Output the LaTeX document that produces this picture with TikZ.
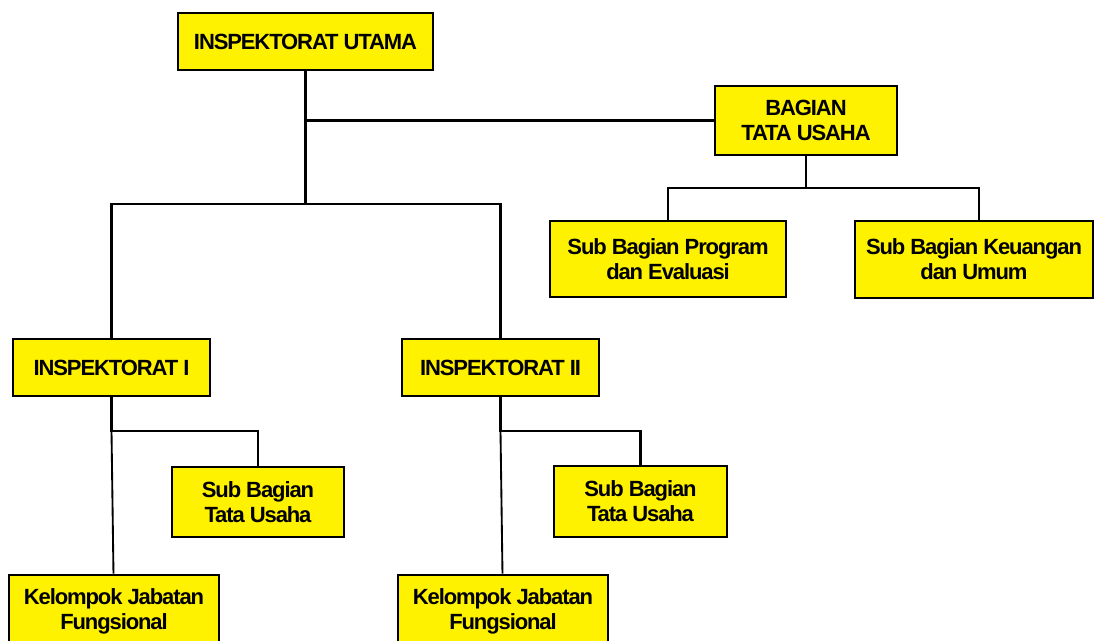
\documentclass[tikz,border=0pt]{standalone}
\usepackage{fontspec}
\setmainfont{Liberation Sans}[LetterSpace=-5]

\begin{document}
\begin{tikzpicture}
[x=0.75pt,y=-0.75pt,
unit/.style={rectangle,draw=black,fill=yellow,line width=2pt,align=center,inner sep=0pt,
  font=\fontsize{16.5}{18.75}\selectfont\bfseries},
boxsize/.style 2 args={minimum width=#1*0.75pt,minimum height=#2*0.75pt},
link/.style={draw=black,line width=2pt},
thin link/.style={draw=black,line width=1.4pt}]
\clip (0,0) rectangle (1095,640);
% top level
\node[unit,boxsize={255}{57}] (inspektorat utama) at (305.5,41.5) {INSPEKTORAT UTAMA};
\node[unit,boxsize={182}{69}] (bagian tu) at (806,120.5) {BAGIAN\\TATA USAHA};
\node[unit,boxsize={236}{76}] (sub program) at (668,259) {Sub Bagian Program\\dan Evaluasi};
\node[unit,boxsize={238}{77}] (sub keuangan) at (974,259.5) {Sub Bagian Keuangan\\dan Umum};
% inspektorat
\node[unit,boxsize={197}{57}] (inspektorat i) at (111.5,367.5) {INSPEKTORAT I};
\node[unit,boxsize={197}{57}] (inspektorat ii) at (500.5,367.5) {INSPEKTORAT II};
\node[unit,boxsize={172}{70}] (tu i) at (258,502) {Sub Bagian\\Tata Usaha};
\node[unit,boxsize={173}{71}] (tu ii) at (640.5,501.5) {Sub Bagian\\Tata Usaha};
\node[unit,boxsize={210}{72}] (kjf i) at (114,611) {Kelompok Jabatan\\Fungsional};
\node[unit,boxsize={210}{72}] (kjf ii) at (503,611) {Kelompok Jabatan\\Fungsional};

\coordinate (utama split) at (305.5,204);
\coordinate (bagian split) at (806,188);
\coordinate (insp i split) at (111.5,431);
\coordinate (insp ii split) at (500.5,431);

\draw[link] (inspektorat utama) -- (utama split);
\draw[link] (inspektorat utama.south |- bagian tu.west) -- (bagian tu.west);
\draw[link] (inspektorat i) |- (utama split) -| (inspektorat ii);
\draw[link] (bagian tu) -- (bagian split);
\draw[link] (sub program) |- (bagian split) -| ([xshift=3.75pt]sub keuangan.north);
\draw[link] (inspektorat i) -- (insp i split) -| (tu i);
\draw[link] (inspektorat ii) -- (insp ii split) -| (tu ii);
\draw[thin link] (insp i split) -- (kjf i);
\draw[thin link] (insp ii split) -- (kjf ii);
\end{tikzpicture}
\end{document}
